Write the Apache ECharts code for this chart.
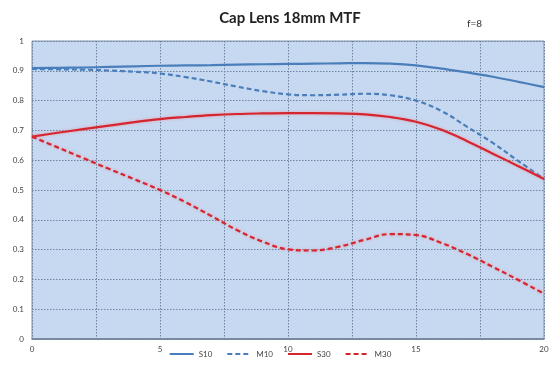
<!DOCTYPE html>
<html><head><meta charset="utf-8">
<script src="https://cdn.jsdelivr.net/npm/echarts@6/dist/echarts.min.js"></script>
<style>html,body{margin:0;padding:0;background:#fff}#c{width:560px;height:372px}</style>
</head><body><div id="c"></div>
<script>
var xs = [0,1,2,3,4,5,6,7,8,9,10,11,12,13,14,15,16,17,18,19,20];
var S10 = [0.909,0.910,0.911,0.913,0.915,0.917,0.918,0.919,0.921,0.922,0.923,0.924,0.925,0.926,0.924,0.918,0.907,0.895,0.880,0.863,0.845];
var M10 = [0.906,0.905,0.904,0.901,0.897,0.891,0.879,0.864,0.847,0.832,0.821,0.818,0.820,0.823,0.818,0.800,0.765,0.712,0.658,0.597,0.537];
var S30 = [0.679,0.692,0.704,0.716,0.728,0.738,0.745,0.751,0.755,0.757,0.758,0.758,0.757,0.754,0.745,0.729,0.702,0.664,0.622,0.580,0.537];
var M30 = [0.679,0.643,0.607,0.571,0.536,0.500,0.459,0.413,0.366,0.327,0.301,0.297,0.310,0.333,0.352,0.349,0.322,0.285,0.242,0.198,0.152];
var seriesNames = ['S10','M10','S30','M30'];
var titleText = 'Cap Lens 18mm MTF';
var subText = 'f=8';

function pts(arr){ return xs.map(function(x,i){ return [x, arr[i]]; }); }
var blue = '#4a7ebb', red = '#d52630';
function mk(name, arr, color, dashed){
  return {
    name: name, type: 'line', data: pts(arr), smooth: 0.4, showSymbol: false, symbol: 'none',
    lineStyle: { color: color, width: 2.2, type: dashed ? [5,3] : 'solid',
      shadowColor: color === red ? 'rgba(255,110,120,0.55)' : 'rgba(0,0,0,0)', shadowBlur: color === red ? 3 : 0 },
    itemStyle: { color: color }
  };
}
var chart = echarts.init(document.getElementById('c'), null, {renderer:'canvas'});
chart.setOption({
  animation: false,
  backgroundColor: '#ffffff',
  title: [
    { text: titleText, left: 285, top: 6, textAlign: 'center',
      textStyle: { fontFamily: 'Lato', fontWeight: 'bold', fontSize: 15, color: '#222' } },
    { text: subText, left: 462, top: 14,
      textStyle: { fontFamily: 'Lato', fontWeight: 'normal', fontSize: 10, color: '#333' } }
  ],
  grid: { left: 32, right: 16, top: 41, bottom: 33, show: true, backgroundColor: '#c6d9f1', borderColor: '#7f93ad', borderWidth: 1 },
  legend: {
    data: seriesNames, bottom: 9, left: 'center', itemWidth: 24, itemHeight: 8, itemGap: 14,
    itemStyle: { opacity: 0 },
    textStyle: { fontFamily: 'Lato', fontSize: 8, color: '#444' }
  },
  xAxis: {
    type: 'value', min: 0, max: 20, interval: 2.5,
    axisLine: { show: true, lineStyle: { color: '#6f7f94', width: 1.5 } },
    axisTick: { show: false },
    axisLabel: { fontFamily: 'Lato', fontSize: 8, color: '#444', margin: 6,
      formatter: function(v){ return (v % 5 === 0) ? String(v) : ''; } },
    splitLine: { show: true, lineStyle: { color: '#6f84a0', type: [1.5,1.5], width: 1 } }
  },
  yAxis: {
    type: 'value', min: 0, max: 1, interval: 0.1,
    axisLine: { show: false },
    axisTick: { show: false },
    axisLabel: { fontFamily: 'Lato', fontSize: 8, color: '#444', margin: 8,
      formatter: function(v){ return String(+v.toFixed(1)); } },
    splitLine: { show: true, lineStyle: { color: '#6f84a0', type: [1.5,1.5], width: 1 } }
  },
  series: [ mk('S10', S10, blue, false), mk('M10', M10, blue, true), mk('S30', S30, red, false), mk('M30', M30, red, true) ]
});
</script></body></html>
